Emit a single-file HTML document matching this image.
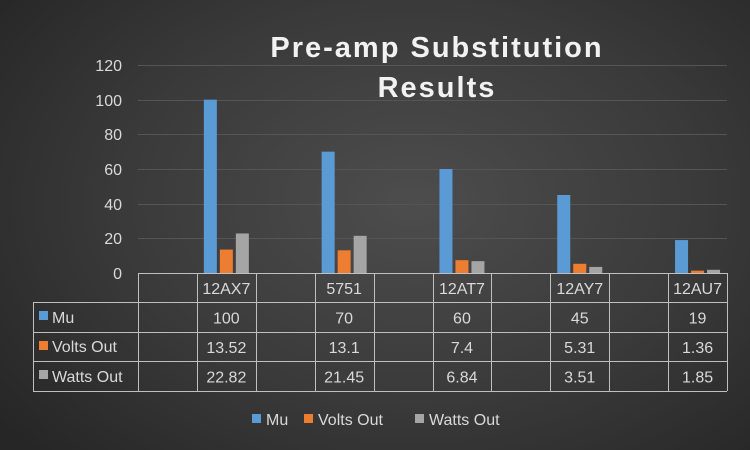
<!DOCTYPE html>
<html><head><style>
body{margin:0}
#c{width:750px;height:450px;position:relative;overflow:hidden;font-family:"Liberation Sans",sans-serif;color:#d9d9d9;
background:radial-gradient(ellipse 70% 80% at 55% 45%,#4d4d4d 0%,#3a3a3a 55%,#262626 100%);}
</style></head><body><div id="c">
<svg width="750" height="450" style="position:absolute;left:0;top:0" font-family="Liberation Sans, sans-serif">
<text x="437" y="57" text-anchor="middle" font-size="29" font-weight="bold" fill="#f2f2f2" letter-spacing="2">Pre-amp Substitution</text>
<text x="437" y="97" text-anchor="middle" font-size="29" font-weight="bold" fill="#f2f2f2" letter-spacing="2">Results</text>
<g stroke="#555" stroke-width="1">
<line x1="138" x2="727" y1="65.5" y2="65.5"/><line x1="138" x2="727" y1="100.5" y2="100.5"/>
<line x1="138" x2="727" y1="134.5" y2="134.5"/><line x1="138" x2="727" y1="169.5" y2="169.5"/>
<line x1="138" x2="727" y1="204.5" y2="204.5"/><line x1="138" x2="727" y1="238.5" y2="238.5"/>
</g>
<g font-size="16" fill="#d9d9d9" text-anchor="end">
<text x="122" y="71">120</text><text x="122" y="106">100</text><text x="122" y="140">80</text>
<text x="122" y="175">60</text><text x="122" y="210">40</text><text x="122" y="244">20</text><text x="122" y="279">0</text>
</g>
<g id="bars"></g>
<g stroke="#bfbfbf" stroke-width="1" fill="none">
<line x1="138" x2="727" y1="273.5" y2="273.5"/>
<line x1="33" x2="727" y1="302.5" y2="302.5"/>
<line x1="33" x2="727" y1="332.5" y2="332.5"/>
<line x1="33" x2="727" y1="361.5" y2="361.5"/>
<line x1="33" x2="727" y1="391.5" y2="391.5"/>
<line x1="33.5" x2="33.5" y1="302" y2="391"/>
</g>
<g id="vl" stroke="#bfbfbf"></g>
<g font-size="16" fill="#d9d9d9" text-anchor="middle" id="tx"></g>
<g font-size="16" fill="#d9d9d9">
<rect x="39" y="311" width="9" height="9" fill="#5b9bd5"/><text x="52" y="323">Mu</text>
<rect x="39" y="341" width="9" height="9" fill="#ed7d31"/><text x="52" y="352">Volts Out</text>
<rect x="39" y="370" width="9" height="9" fill="#a5a5a5"/><text x="52" y="382">Watts Out</text>
<rect x="252" y="414" width="9" height="9" fill="#5b9bd5"/><text x="266" y="425">Mu</text>
<rect x="304" y="414" width="9" height="9" fill="#ed7d31"/><text x="318" y="425">Volts Out</text>
<rect x="415" y="414" width="9" height="9" fill="#a5a5a5"/><text x="429" y="425">Watts Out</text>
</g>
</svg>
<script>
var ns="http://www.w3.org/2000/svg";
var cats=["12AX7","5751","12AT7","12AY7","12AU7"];
var d=[[100,13.52,22.82],[70,13.1,21.45],[60,7.4,6.84],[45,5.31,3.51],[19,1.36,1.85]];
var cols=["#5b9bd5","#ed7d31","#a5a5a5"];
var w=(727-138)/10;
var b=document.getElementById("bars"),vl=document.getElementById("vl"),tx=document.getElementById("tx");
for(var i=0;i<=10;i++){var x=Math.round(138+i*w)+0.5;var l=document.createElementNS(ns,"line");
l.setAttribute("x1",x);l.setAttribute("x2",x);l.setAttribute("y1",273);l.setAttribute("y2",391);vl.appendChild(l);}
for(var c=0;c<5;c++){var cx=138+(2*c+1.5)*w;
for(var s=0;s<3;s++){var v=d[c][s],h=v*208/120;var r=document.createElementNS(ns,"rect");
r.setAttribute("x",cx-22.5+s*16);r.setAttribute("width",13);r.setAttribute("y",273-h);r.setAttribute("height",h);r.setAttribute("fill",cols[s]);b.appendChild(r);}
var rows=[cats[c]].concat(d[c].map(String));
for(var k=0;k<4;k++){var t=document.createElementNS(ns,"text");t.setAttribute("x",cx);t.setAttribute("y",294+k*29.5);t.textContent=rows[k];tx.appendChild(t);}}
</script>
</div></body></html>
